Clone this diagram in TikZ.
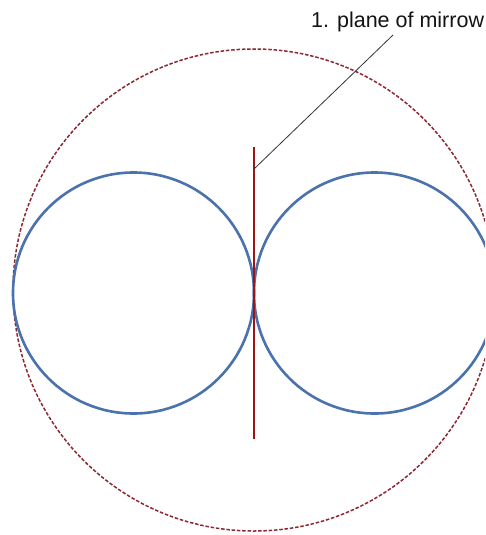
\documentclass[tikz,border=0pt]{standalone}
\usepackage{fontspec}
\setmainfont{Liberation Sans}
\definecolor{ringblue}{RGB}{74,114,172}
\definecolor{dashred}{RGB}{140,40,50}
\definecolor{mirrorred}{RGB}{160,20,20}
\begin{document}
\begin{tikzpicture}[x=1pt,y=-1pt,
  ring/.style={draw=ringblue,line width=2.6pt},
  outer/.style={draw=dashred,line width=1.5pt,dash pattern=on 3.5pt off 1.8pt},
  mirror/.style={draw=mirrorred,line width=1.6pt},
  leader/.style={draw=black!80,line width=0.8pt},
  lbl/.style={font=\fontsize{21.5}{24}\selectfont,text=black!92,inner sep=0pt}]
\useasboundingbox (0,0) rectangle (485,535);
\clip (0,0) rectangle (485,535);
\fill[white] (0,0) rectangle (485,535);
\draw[outer] (254,290) circle[radius=241];
\draw[ring] (133.5,293) circle[radius=120.5];
\draw[ring] (374.5,293) circle[radius=120.5];
\coordinate (mtop) at (254,147);
\coordinate (mbot) at (254,439);
\draw[mirror] (mtop) -- (mbot);
\node[lbl,anchor=base west] (label) at (311,28) {1. plane of mirrow};
\coordinate (lstart) at (254,169);
\coordinate (lend) at (393,35);
\draw[leader] (lstart) -- (lend);
\end{tikzpicture}
\end{document}
